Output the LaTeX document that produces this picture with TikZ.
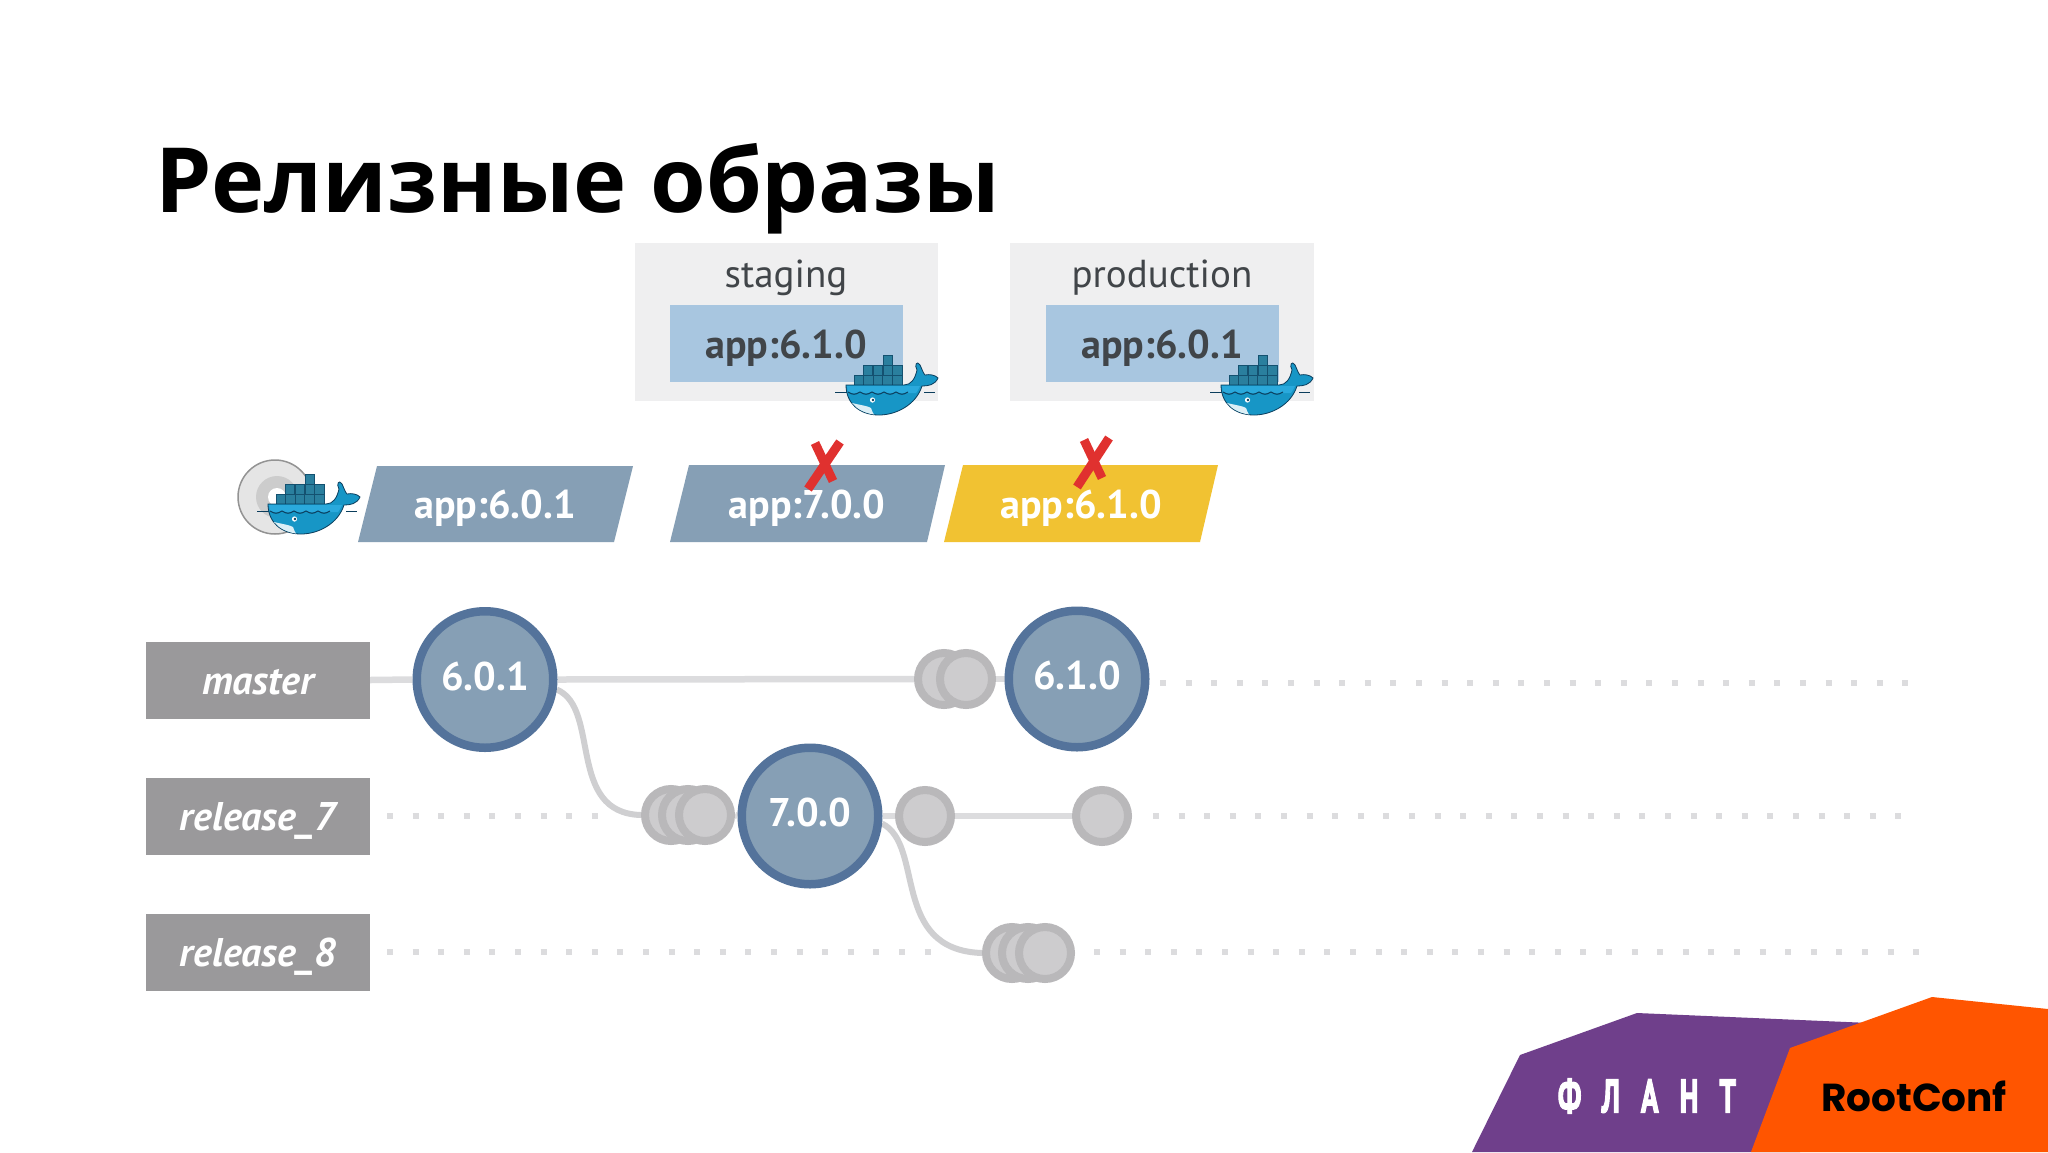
\documentclass[tikz,border=0pt]{standalone}
\usepackage{graphicx}
\usepackage{fontspec}
\setmainfont{PT Sans}
\newfontfamily\titlefont{Open Sans}
\newfontfamily\logofont{Poppins}
\usetikzlibrary{backgrounds}
\definecolor{boxgrey}{HTML}{EFEFF0}
\definecolor{imgblue}{HTML}{A8C6E0}
\definecolor{darktext}{HTML}{414549}
\definecolor{slate}{HTML}{869FB5}
\definecolor{ringblue}{HTML}{54739B}
\definecolor{amber}{HTML}{F1C232}
\definecolor{labelgrey}{HTML}{9A999B}
\definecolor{linegrey}{HTML}{DCDCDE}
\definecolor{curvegrey}{HTML}{CFCFD1}
\definecolor{smallfill}{HTML}{CDCCCE}
\definecolor{smallring}{HTML}{B9B8BA}
\definecolor{crossred}{HTML}{E0312F}
\definecolor{flantviolet}{HTML}{6F3F8B}
\definecolor{confrange}{HTML}{FF5500}
\definecolor{hullblue}{HTML}{1796C6}
\definecolor{hulllight}{HTML}{2AA9DC}
\definecolor{hulldark}{HTML}{0B3D5C}
\definecolor{crate}{HTML}{2A7F9E}
\newcommand{\fsz}[1]{\fontsize{#1}{#1}\selectfont}
\tikzset{
  envtitle/.style={anchor=base,inner sep=0pt,text=darktext,font=\fsz{39}},
  imgtext/.style={anchor=base,inner sep=0pt,text=darktext,font=\fsz{40}\bfseries},
  tagtext/.style={anchor=base,inner sep=0pt,text=white,font=\fsz{40}\bfseries},
  branchbox/.style={fill=labelgrey,text=white,minimum width=224pt,minimum height=77pt,inner sep=0pt,text height=37pt,text depth=8pt,font=\fsz{40}\bfseries\itshape},
  bigcommit/.style={circle,draw=ringblue,fill=slate,line width=8.5pt,minimum size=136.5pt,inner sep=0pt,text height=29pt,text depth=8pt,text=white,font=\fsz{40}\bfseries},
  smallcommit/.style={circle,draw=smallring,fill=smallfill,line width=8pt,minimum size=52pt,inner sep=0pt},
  trunk/.style={draw=linegrey,line width=6.5pt},
  forkline/.style={draw=curvegrey,line width=6pt},
  dotline/.style={draw=linegrey,line width=6pt,dash pattern=on 6pt off 19.6pt},
  cross/.style={draw=crossred,line width=9pt},
  dockerwhale/.pic={
    \foreach \x/\y in {49/0,29/10,39/10,49/10,58.5/10,20/20,29.6/20,39.2/20,48.8/20,58.4/20}
      \fill[crate,draw=hulldark!70!crate,line width=.8pt] (\x,\y) rectangle ++(9.6,10);
    \draw[hulldark,line width=1pt] (1,37) -- (14,37) (90,37) -- (101,37);
    \path[fill=hullblue,draw=hulldark,line width=.8pt]
      (12,30) -- (70,30) .. controls (77,30) and (81,24) .. (83,15)
      .. controls (80,10) and (83,5) .. (86,10) .. controls (88,14) and (89,18) .. (91,20)
      .. controls (96,19) and (101,20) .. (104,23) .. controls (101,30) and (94,31) .. (88,31)
      .. controls (82,50) and (62,60) .. (45,60) .. controls (25,60) and (12,48) .. (12,30) -- cycle;
    \fill[hulllight] (13,31) -- (86,31) .. controls (84,35) and (83,37) .. (82,38) -- (14,38) -- cycle;
    \draw[hulldark,line width=1pt] (14,37) .. controls (19,40) and (21,40) .. (26,37) .. controls (31,40) and (33,40) .. (38,37) .. controls (43,40) and (45,40) .. (50,37) .. controls (55,40) and (57,40) .. (62,37) .. controls (67,40) and (69,40) .. (74,37);
    \fill[white!85!hullblue] (18,48) .. controls (26,50) and (34,51) .. (37,53) .. controls (38,56) and (39,58) .. (40,59.5) .. controls (30,58) and (23,54) .. (18,48) -- cycle;
    \fill[white] (38.5,45) circle (2.6pt);
    \fill[hulldark] (39,45) circle (1.4pt);
  }
}
\begin{document}
\begin{tikzpicture}[x=1pt,y=-1pt]
\useasboundingbox (0,0) rectangle (2048,1152);
% title
\node[anchor=base west,inner sep=0pt,font=\titlefont\fsz{90}\bfseries,text=black] (title) at (155,212) {Релизные образы};
% environments
\fill[boxgrey] (635,243) rectangle (938,401);
\fill[boxgrey] (1010,243) rectangle (1314,401);
\fill[imgblue] (670,305) rectangle (903,382);
\fill[imgblue] (1046,305) rectangle (1279,382);
\node[envtitle] (stg) at (786,287) {staging};
\node[envtitle] (prd) at (1162,287) {production};
\node[imgtext] (stgimg) at (786,358) {app:6.1.0};
\node[imgtext] (prdimg) at (1162,358) {app:6.0.1};
\pic at (834,355) {dockerwhale};
\pic at (1209,355) {dockerwhale};
% tags
\fill[slate] (377,466) -- (633,466) -- (614,542) -- (358,542) -- cycle;
\fill[slate] (689,465) -- (945,465) -- (927,542) -- (670,542) -- cycle;
\fill[amber] (963,465) -- (1218,465) -- (1200,542) -- (944,542) -- cycle;
\node[tagtext] (tag1) at (495,518) {app:6.0.1};
\node[tagtext] (tag2) at (807,518) {app:7.0.0};
\node[tagtext] (tag3) at (1081,518) {app:6.1.0};
\draw[cross] (808,489) -- (840,442);
\draw[cross] (815,443) -- (833,481);
\draw[cross] (1077,487) -- (1109,438);
\draw[cross] (1084,440) -- (1102,478);
% disc
\fill[black!10,draw=gray!85,line width=1.5pt] (275,497) circle (37pt);
\fill[black!20] (277,497) circle (21pt);
\fill[white] (277,497) circle (9pt);
\pic at (256,474) {dockerwhale};
% branches
\node[branchbox] (master) at (258,680) {master};
\node[branchbox] (r7) at (258,816) {release\_7};
\node[branchbox] (r8) at (258,952) {release\_8};
% commits
\node[bigcommit] (v601) at (485,679.5) {6.0.1};
\node[bigcommit] (v610) at (1077,679) {6.1.0};
\node[bigcommit] (v700) at (810,816) {7.0.0};
\node[smallcommit] (ma) at (944,679) {};
\node[smallcommit] (mb) at (966,679) {};
\node[smallcommit] (ra) at (671,815) {};
\node[smallcommit] (rb) at (688,815) {};
\node[smallcommit] (rc) at (705,815) {};
\node[smallcommit] (rd) at (925,816) {};
\node[smallcommit] (re) at (1102,816) {};
\node[smallcommit] (sa) at (1012,953) {};
\node[smallcommit] (sb) at (1028,953) {};
\node[smallcommit] (sc) at (1045,953) {};
\coordinate (d1) at (1160,683);
\coordinate (d2) at (1908,683);
\coordinate (d3) at (387,816);
\coordinate (d4) at (600,816);
\coordinate (d5) at (1153,816);
\coordinate (d6) at (1903,816);
\coordinate (d7) at (387,952);
\coordinate (d8) at (935,952);
\coordinate (d9) at (1094,952);
\coordinate (d10) at (1922,952);
\begin{scope}[on background layer]
  \fill[white] (0,0) rectangle (2048,1152);
  \draw[trunk] (master.east) -- (v601.west);
  \draw[trunk] (v601.east) -- (ma.west);
  \draw[trunk] (mb.east) -- (v610.west);
  \draw[trunk] (rc.east) -- (v700.west);
  \draw[trunk] (v700.east) -- (rd.west);
  \draw[trunk] (rd.east) -- (re.west);
  \draw[forkline] (v601.-8) .. controls (601,708) and (566,813) .. (ra.west);
  \draw[forkline] (v700.-6) .. controls (925,845) and (890,950) .. (sa.west);
  \draw[dotline] (d1) -- (d2);
  \draw[dotline] (d3) -- (d4);
  \draw[dotline] (d5) -- (d6);
  \draw[dotline] (d7) -- (d8);
  \draw[dotline] (d9) -- (d10);
\end{scope}
% logos
\fill[flantviolet] (1472,1152) -- (1520,1055) -- (1637,1013) -- (1870,1023) -- (1800,1152) -- cycle;
\fill[confrange] (1751,1152) -- (1790,1048) -- (1932,997) -- (2048,1009) -- (2048,1152) -- cycle;
\node[text=white,font=\fsz{47}\bfseries\addfontfeatures{LetterSpace=72,FakeBold=3}] (flant) at (1647,1096) {\scalebox{.62}[1]{ФЛАНТ}};
\node[text=black,font=\logofont\fsz{39}\bfseries] (rc) at (1914,1096) {RootConf};
\end{tikzpicture}
\end{document}
